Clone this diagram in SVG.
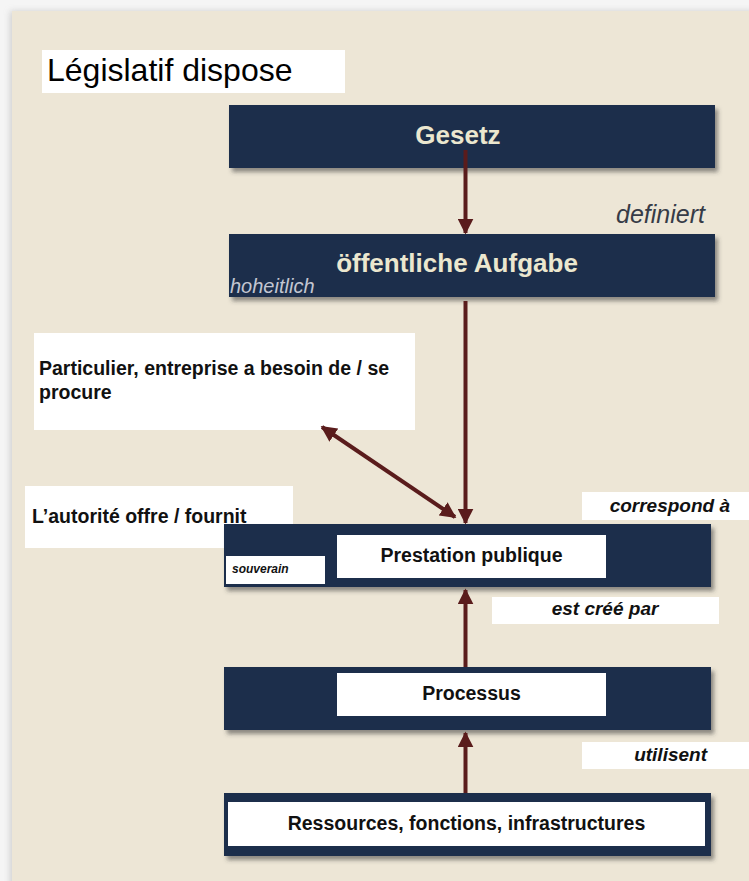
<svg xmlns="http://www.w3.org/2000/svg" width="749" height="881" viewBox="0 0 749 881">
<style>
text{font-family:"Liberation Sans",Arial,sans-serif}
.band{fill:#1c2e4c;filter:url(#sh)}
.wb{fill:#ffffff}
.title{font-size:26px;font-weight:bold;fill:#ebe7cf}
.lbl{font-size:19.5px;font-weight:bold;fill:#111111}
.it{font-size:19px;font-weight:bold;font-style:italic;fill:#111111}
.arr{stroke:#5a1c1c;stroke-width:4;fill:none}
</style>
<defs>
<filter id="sh" x="-5%" y="-20%" width="115%" height="150%">
<feDropShadow dx="3" dy="4" stdDeviation="2" flood-color="#3a3a3a" flood-opacity="0.55"/>
</filter>
<filter id="psh" x="-5%" y="-5%" width="110%" height="110%">
<feDropShadow dx="-2" dy="0" stdDeviation="3" flood-color="#999" flood-opacity="0.4"/>
</filter>
<marker id="ah" viewBox="0 0 10 10" refX="9" refY="5" markerWidth="4" markerHeight="4" orient="auto-start-reverse" markerUnits="strokeWidth">
<path d="M0,0 L10,5 L0,10 Z" fill="#5a1c1c"/>
</marker>
</defs>
<rect x="0" y="0" width="749" height="881" fill="#f5f5f5"/>
<rect x="12" y="11" width="745" height="880" fill="#ede6d6" filter="url(#psh)"/>

<g id="legislatif">
<rect class="wb" x="42" y="50" width="303" height="43"/>
<text x="47" y="81" style="font-size:32px" fill="#000">Législatif dispose</text>
</g>

<g id="gesetz">
<rect class="band" x="229" y="105" width="486" height="63"/>
<text class="title" x="458" y="144" text-anchor="middle">Gesetz</text>
</g>

<g id="definiert">
<text x="705" y="223" text-anchor="end" style="font-size:25px;font-style:italic" fill="#363b47">definiert</text>
</g>

<g id="aufgabe">
<rect class="band" x="229" y="234" width="486" height="63"/>
<text class="title" x="457" y="272" text-anchor="middle">öffentliche Aufgabe</text>
<text x="230" y="293" style="font-size:20px;font-style:italic" fill="#c3c6d2">hoheitlich</text>
</g>

<g id="particulier">
<rect class="wb" x="34" y="333" width="381" height="97"/>
<text class="lbl" x="39" y="375">Particulier, entreprise a besoin de / se</text>
<text class="lbl" x="39" y="399">procure</text>
</g>

<g id="autorite">
<rect class="wb" x="25" y="486" width="268" height="62"/>
<text class="lbl" x="32" y="523">L’autorité offre / fournit</text>
</g>

<g id="correspond">
<rect class="wb" x="582" y="492" width="167" height="28"/>
<text class="it" x="730" y="512" text-anchor="end">correspond à</text>
</g>

<g id="prestation">
<rect class="band" x="224" y="524" width="487" height="63"/>
<rect class="wb" x="337" y="535" width="269" height="43"/>
<text class="lbl" x="471.5" y="562" text-anchor="middle">Prestation publique</text>
<rect class="wb" x="226" y="556" width="99" height="28"/>
<text x="232" y="573" style="font-size:12px;font-weight:bold;font-style:italic" fill="#111">souverain</text>
</g>

<g id="estcree">
<rect class="wb" x="492" y="597" width="227" height="27"/>
<text class="it" x="605" y="615" text-anchor="middle">est créé par</text>
</g>

<g id="processus">
<rect class="band" x="224" y="667" width="487" height="63"/>
<rect class="wb" x="337" y="673" width="269" height="43"/>
<text class="lbl" x="471.5" y="700" text-anchor="middle">Processus</text>
</g>

<g id="utilisent">
<rect class="wb" x="582" y="742" width="167" height="27"/>
<text class="it" x="707" y="761" text-anchor="end">utilisent</text>
</g>

<g id="ressources">
<rect class="band" x="224" y="793" width="487" height="63"/>
<rect class="wb" x="228" y="802" width="477" height="44"/>
<text class="lbl" x="466.5" y="830" text-anchor="middle">Ressources, fonctions, infrastructures</text>
</g>

<g id="connectors">
<line class="arr" x1="465.5" y1="150" x2="465.5" y2="233" marker-end="url(#ah)"/>
<line class="arr" x1="465.5" y1="301" x2="465.5" y2="523" marker-end="url(#ah)"/>
<line class="arr" x1="322" y1="427" x2="455" y2="517" marker-start="url(#ah)" marker-end="url(#ah)"/>
<line class="arr" x1="465.5" y1="667" x2="465.5" y2="590" marker-end="url(#ah)"/>
<line class="arr" x1="465.5" y1="793" x2="465.5" y2="733" marker-end="url(#ah)"/>
</g>
</svg>
